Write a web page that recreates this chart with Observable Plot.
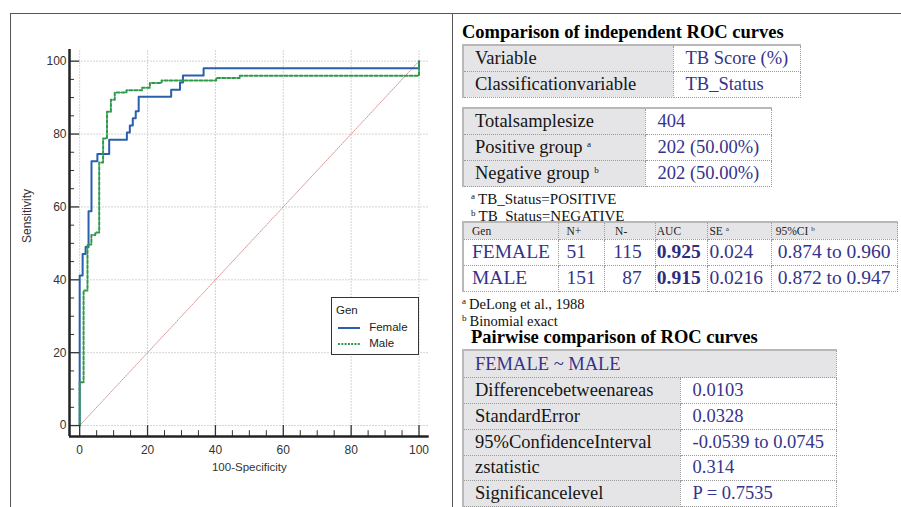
<!DOCTYPE html>
<html><head><meta charset="utf-8">
<script src="https://cdn.jsdelivr.net/npm/d3@7"></script>
<script src="https://cdn.jsdelivr.net/npm/@observablehq/plot@0.6"></script>
<style>
body{margin:0;background:#fff;width:901px;height:507px;overflow:hidden;position:relative;font-family:"Liberation Serif","Times New Roman",serif;}
.ln{position:absolute;background:#555;z-index:5;}
#chart{position:absolute;left:0;top:0;}
#legend{position:absolute;left:331px;top:297px;width:86px;height:56px;border:1.5px solid #333;background:#fff;font-family:"Liberation Sans",Arial,sans-serif;font-size:11.5px;color:#222;z-index:3;}
#legend .ttl{position:absolute;left:4px;top:6px;}
#legend .it{position:absolute;left:6px;height:14px;line-height:14px;}
#legend svg{vertical-align:middle;}
.title{position:absolute;font-weight:bold;font-size:18.5px;line-height:20px;color:#000;white-space:nowrap;}
.note{position:absolute;font-size:15px;line-height:16px;color:#111;white-space:nowrap;}
.note sup{font-size:9px;vertical-align:5px;margin-right:3px;}
table{position:absolute;border-collapse:collapse;table-layout:fixed;font-size:18.5px;border-top:2px solid #b8b8b8;border-left:2px solid #b8b8b8;}
td{border:1px dotted #9a9a9a;padding:0 0 0 11px;white-space:nowrap;overflow:visible;color:#35338a;}
td.lab{background:#e5e5e7;color:#151515;}
td sup{font-size:9px;vertical-align:6px;}
tr.hd td{background:#e5e5e7;color:#222;font-size:11.5px;}
td b{color:#2e2c80;}
</style></head>
<body>
<div id="chart"></div>
<div id="legend"></div>
<div class="ln" style="left:10px;top:13px;width:891px;height:1px"></div>
<div class="ln" style="left:10px;top:13px;width:1px;height:494px"></div>
<div class="ln" style="left:452px;top:13px;width:1px;height:494px"></div>
<div id="right"></div>
<script>
// ---------- ROC data (100-Specificity, Sensitivity), step points ----------
const femaleFPR  = [0, 0, 0.87, 1.74, 2.61, 3.48, 5.22, 8.70, 13.91, 14.78, 15.65, 16.52, 17.39, 26.96, 29.57, 30.43, 36.52, 100];
const femaleSens = [0, 41.18, 47.06, 49.02, 58.82, 72.55, 74.51, 78.43, 80.39, 82.35, 84.31, 86.27, 90.20, 92.16, 94.12, 96.08, 98.04, 100];
const maleFPR  = [0, 0, 1.15, 2.30, 3.45, 4.60, 5.75, 6.90, 8.05, 9.20, 10.34, 13.79, 18.39, 20.69, 24.14, 40.23, 47.13, 100];
const maleSens = [0, 11.92, 37.09, 49.67, 52.32, 52.98, 72.19, 78.81, 86.09, 89.40, 91.39, 92.05, 92.72, 94.04, 94.70, 95.36, 96.03, 100];
const seriesNames = ["Female", "Male"];
const legendTitle = "Gen";
const xTicks = [0, 20, 40, 60, 80, 100];
const yTicks = [0, 20, 40, 60, 80, 100];
const minorTicks = [5, 10, 15, 25, 30, 35, 45, 50, 55, 65, 70, 75, 85, 90, 95];
const xLabel = "100-Specificity";
const yLabel = "Sensitivity";

// ---------- table data ----------
const t1Labels = ["Variable", "Classificationvariable"];
const t1Values = ["TB Score (%)", "TB_Status"];
const t2Labels = ["Totalsamplesize", "Positive group", "Negative group"];
const t2Sups = ["", "a", "b"];
const t2Values = ["404", "202 (50.00%)", "202 (50.00%)"];
const notes1 = [["a", "TB_Status=POSITIVE"], ["b", "TB_Status=NEGATIVE"]];
const t3Head = ["Gen", "N+", "N-", "AUC", "SE", "95%CI"];
const t3HeadSups = ["", "", "", "", "a", "b"];
const t3Gen = ["FEMALE", "MALE"];
const t3Npos = ["51", "151"];
const t3Nneg = ["115", "87"];
const t3AUC = ["0.925", "0.915"];
const t3SE = ["0.024", "0.0216"];
const t3CI = ["0.874 to 0.960", "0.872 to 0.947"];
const notes2 = [["a", "DeLong et al., 1988"], ["b", "Binomial exact"]];
const title1 = "Comparison of independent ROC curves";
const title2 = "Pairwise comparison of ROC curves";
const t4Head = "FEMALE ~ MALE";
const t4Labels = ["Differencebetweenareas", "StandardError", "95%ConfidenceInterval", "zstatistic", "Significancelevel"];
const t4Values = ["0.0103", "0.0328", "-0.0539 to 0.0745", "0.314", "P = 0.7535"];

// ---------- chart ----------
const colors = {Female: "#2a5fad", Male: "#2f9a4a"};
const dash = {Female: null, Male: "3,2"};
const xMin = -3, xMax = 103, yMin = -3, yMax = 103.2;

const female = femaleFPR.map((x, i) => ({fpr: x, sens: femaleSens[i]}));
const male = maleFPR.map((x, i) => ({fpr: x, sens: maleSens[i]}));
const diag = [{fpr: 0, sens: 0}, {fpr: 100, sens: 100}];

const plot = Plot.plot({
  width: 450, height: 507,
  marginLeft: 69, marginRight: 21.3, marginTop: 49, marginBottom: 71,
  style: {background: "transparent", fontFamily: "Liberation Sans, Arial, sans-serif", fontSize: "12px", color: "#333"},
  x: {domain: [xMin, xMax], ticks: xTicks, tickSize: 0, tickPadding: 9, label: null},
  y: {domain: [yMin, yMax], ticks: yTicks, tickSize: 0, tickPadding: 3, label: null},
  marks: [
    Plot.ruleX(xTicks, {y1: yMin, y2: yMax, stroke: "#d4d4d4", strokeDasharray: "2,1"}),
    Plot.ruleY(yTicks, {x1: xMin, x2: xMax, stroke: "#d4d4d4", strokeDasharray: "2,1"}),
    Plot.line(diag, {x: "fpr", y: "sens", stroke: "#dc9494", strokeWidth: 1, strokeDasharray: "1.5,1.2"}),
    Plot.line(female, {x: "fpr", y: "sens", curve: "step-after", stroke: colors.Female, strokeWidth: 2}),
    Plot.line(male, {x: "fpr", y: "sens", curve: "step-after", stroke: colors.Male, strokeWidth: 2, strokeDasharray: dash.Male}),
    Plot.ruleY(yTicks, {x1: xMin, x2: 0, stroke: "#333", strokeWidth: 1.3}),
    Plot.ruleY(minorTicks, {x1: xMin, x2: xMin + 1.5, stroke: "#333", strokeWidth: 1}),
    Plot.ruleX(xTicks, {y1: yMin, y2: 0, stroke: "#333", strokeWidth: 1.3}),
    Plot.ruleX(minorTicks, {y1: yMin, y2: yMin + 1.6, stroke: "#333", strokeWidth: 1}),
    Plot.ruleX([xMin], {y1: yMin, y2: yMax, stroke: "#222", strokeWidth: 2.5}),
    Plot.ruleY([yMin], {x1: xMin, x2: xMax, stroke: "#222", strokeWidth: 2.5}),
    Plot.text([xLabel], {frameAnchor: "bottom", dy: 34, fontSize: 11.5, fill: "#333"}),
    Plot.text([yLabel], {frameAnchor: "left", dx: -42, rotate: -90, fontSize: 12, fill: "#333"})
  ]
});
document.getElementById("chart").appendChild(plot);

// legend
const lg = document.getElementById("legend");
lg.innerHTML = `<div class="ttl">${legendTitle}</div>` + seriesNames.map((n, i) =>
  `<div class="it" style="top:${22 + i * 16}px"><svg width="24" height="4"><line x1="0" x2="22" y1="2" y2="2" stroke="${colors[n]}" stroke-width="2" ${dash[n] ? `stroke-dasharray="2,1.3"` : ""}/></svg> <span style="margin-left:4px">${n}</span></div>`).join("");

// ---------- right panel ----------
const R = document.getElementById("right");
let html = "";
html += `<div class="title" style="left:462px;top:22px">${title1}</div>`;
html += `<table style="left:462px;top:44px;width:337px"><colgroup><col style="width:210px"><col style="width:127px"></colgroup>` +
  t1Labels.map((l, i) => `<tr style="height:26px"><td class="lab">${l}</td><td style="padding-left:12px">${t1Values[i]}</td></tr>`).join("") + `</table>`;
html += `<table style="left:462px;top:107px;width:308px"><colgroup><col style="width:182px"><col style="width:126px"></colgroup>` +
  t2Labels.map((l, i) => `<tr style="height:26.3px"><td class="lab">${l}${t2Sups[i] ? ` <sup>${t2Sups[i]}</sup>` : ""}</td><td style="padding-left:12px">${t2Values[i]}</td></tr>`).join("") + `</table>`;
notes1.forEach((n, i) => { html += `<div class="note" style="left:471px;top:${188 + i * 16.6}px"><sup>${n[0]}</sup>${n[1]}</div>`; });
const w3 = [95, 46.6, 50.7, 52.7, 63.3, 126.7];
html += `<table style="left:462px;top:221px;width:435px"><colgroup>${w3.map(w => `<col style="width:${w}px">`).join("")}</colgroup>` +
  `<tr class="hd" style="height:17px">${t3Head.map((h, j) => `<td style="padding-left:${[8, 8, 10, 1, 1, 4][j]}px">${h}${t3HeadSups[j] ? ` <sup style="font-size:7px;vertical-align:4px">${t3HeadSups[j]}</sup>` : ""}</td>`).join("")}</tr>` +
  t3Gen.map((g, i) => `<tr style="height:26.3px;font-size:19.5px"><td style="padding-left:8px">${g}</td><td style="padding-left:8px">${t3Npos[i]}</td><td style="text-align:right;padding-right:13px;padding-left:0">${t3Nneg[i]}</td><td style="padding-left:1px"><b>${t3AUC[i]}</b></td><td style="padding-left:1px">${t3SE[i]}</td><td style="padding-left:6px">${t3CI[i]}</td></tr>`).join("") + `</table>`;
notes2.forEach((n, i) => { html += `<div class="note" style="left:462px;top:${293 + i * 16.6}px;font-size:14.5px"><sup>${n[0]}</sup>${n[1]}</div>`; });
html += `<div class="title" style="left:471px;top:327px">${title2}</div>`;
html += `<table style="left:462px;top:349px;width:373px"><colgroup><col style="width:217px"><col style="width:156px"></colgroup>` +
  `<tr style="height:27.7px"><td colspan="2" class="lab" style="color:#35338a">${t4Head}</td></tr>` +
  t4Labels.map((l, i) => `<tr style="height:25.8px"><td class="lab">${l}</td><td style="padding-left:12px">${t4Values[i]}</td></tr>`).join("") + `</table>`;
R.innerHTML = html;
</script>
</body></html>
